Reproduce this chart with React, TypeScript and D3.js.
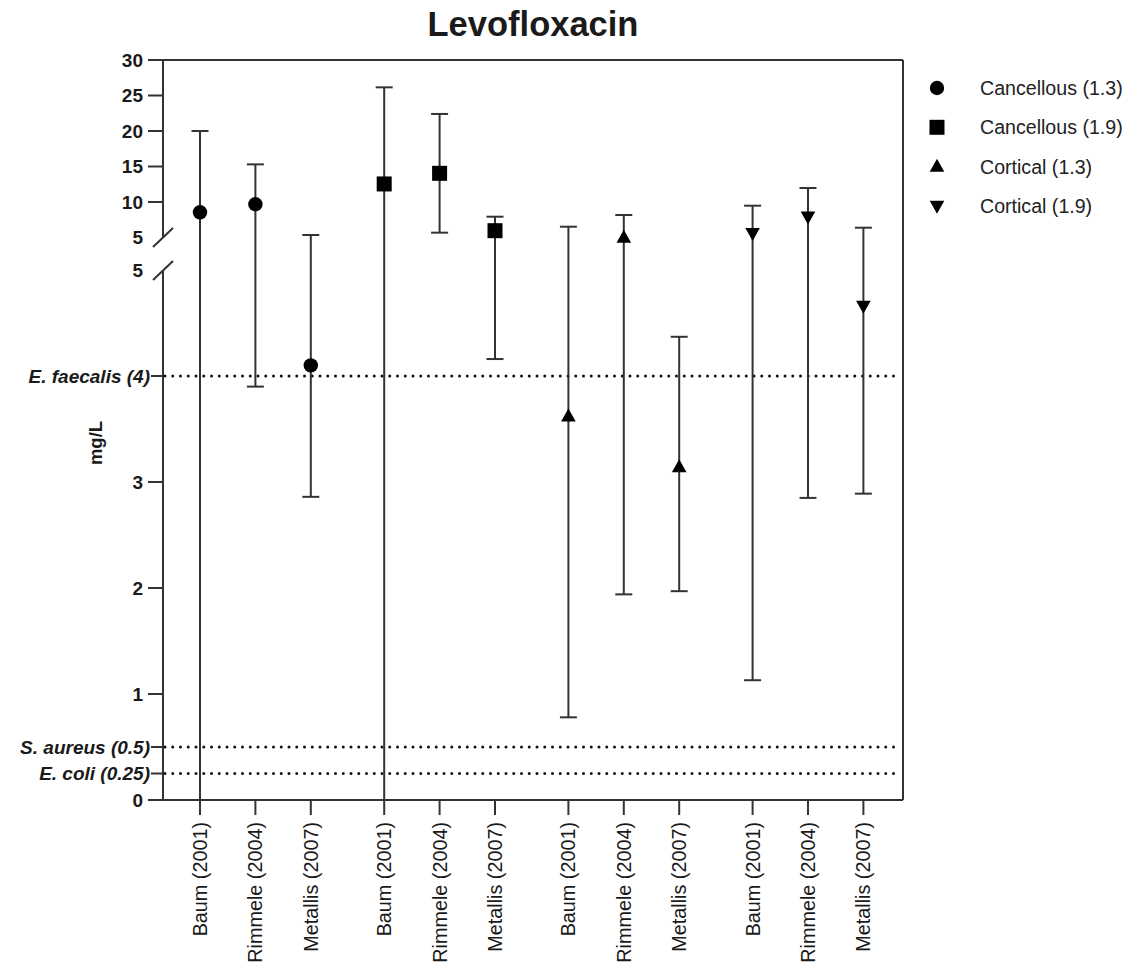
import React from "react";
import * as d3 from "d3";

// Studies plotted within each bone/dose group
const studies = ["Baum (2001)", "Rimmele (2004)", "Metallis (2007)"];
const groupNames = ["Cancellous (1.3)", "Cancellous (1.9)", "Cortical (1.3)", "Cortical (1.9)"];
const groupShapes = ["circle", "square", "triangleUp", "triangleDown"];

// Concentration (mg/L): point estimate with lower / upper error limits
const cancellous13Mean = [8.55, 9.68, 4.1];
const cancellous13Low = [0, 3.9, 2.86];
const cancellous13High = [20, 15.3, 5.35];

const cancellous19Mean = [12.54, 14.04, 5.96];
const cancellous19Low = [0, 5.68, 4.16];
const cancellous19High = [26.15, 22.4, 7.93];

const cortical13Mean = [3.62, 5.0, 3.14];
const cortical13Low = [0.78, 1.94, 1.97];
const cortical13High = [6.52, 8.17, 4.37];

const cortical19Mean = [5.59, 7.93, 4.66];
const cortical19Low = [1.13, 2.85, 2.89];
const cortical19High = [9.48, 11.97, 6.38];

// MIC breakpoints drawn as dotted reference lines
const micValues = [4, 0.5, 0.25];
const micLabels = ["E. faecalis (4)", "S. aureus (0.5)", "E. coli (0.25)"];

// Axis ticks for the two segments of the broken axis
const upperTicks = [10, 15, 20, 25, 30];
const lowerTicks = [0, 1, 2, 3];

const means = [cancellous13Mean, cancellous19Mean, cortical13Mean, cortical19Mean];
const lows = [cancellous13Low, cancellous19Low, cortical13Low, cortical19Low];
const highs = [cancellous13High, cancellous19High, cortical13High, cortical19High];

const FONT = "'Liberation Sans', Arial, Helvetica, sans-serif";
const INK = "#1a1a1a";
const LINE = "#333";

const left = 163;
const right = 903;
const top = 60;
const bottom = 800;
const groupGap = 0.325;

const x = d3.scaleLinear().domain([-0.668, 12.69]).range([left, right]);
const yUpper = d3.scaleLinear().domain([5, 30]).range([237.5, top]);
const yLower = d3.scaleLinear().domain([0, 5]).range([bottom, 270]);
const y = (v: number) => (v >= 5 ? yUpper(v) : yLower(v));

const posOf = (g: number, i: number) => g * (3 + groupGap) + i;

function marker(shape: string, cx: number, cy: number, key?: string) {
  if (shape === "circle") return <circle key={key} cx={cx} cy={cy} r={7.2} fill="#000" />;
  if (shape === "square")
    return <rect key={key} x={cx - 7.5} y={cy - 7.5} width={15} height={15} fill="#000" />;
  const w = 7.3;
  const h = 13;
  if (shape === "triangleUp") {
    const p = [
      [cx, cy - h * 0.6],
      [cx - w, cy + h * 0.4],
      [cx + w, cy + h * 0.4],
    ];
    return <path key={key} d={d3.line()(p as [number, number][]) + "Z"} fill="#000" />;
  }
  const p = [
    [cx, cy + h * 0.6],
    [cx - w, cy - h * 0.4],
    [cx + w, cy - h * 0.4],
  ];
  return <path key={key} d={d3.line()(p as [number, number][]) + "Z"} fill="#000" />;
}

export default function App() {
  const capHalf = 8.5;
  const marks: React.ReactNode[] = [];
  groupNames.forEach((_, g) => {
    studies.forEach((_, i) => {
      const cx = x(posOf(g, i));
      const yl = y(lows[g][i]);
      const yh = y(highs[g][i]);
      marks.push(
        <g key={`e${g}-${i}`} stroke={LINE} strokeWidth={2}>
          <line x1={cx} x2={cx} y1={yl} y2={yh} />
          <line x1={cx - capHalf} x2={cx + capHalf} y1={yh} y2={yh} />
          {lows[g][i] > 0 && <line x1={cx - capHalf} x2={cx + capHalf} y1={yl} y2={yl} />}
        </g>
      );
      marks.push(marker(groupShapes[g], cx, y(means[g][i]), `m${g}-${i}`));
    });
  });

  return (
    <svg
      width={1130}
      height={970}
      style={{ position: "absolute", left: 0, top: 0, background: "#fff" }}
      fontFamily={FONT}
    >
      <rect width={1130} height={970} fill="#fff" />
      {/* title */}
      <text x={533} y={36} textAnchor="middle" fontSize={34.5} fontWeight="bold" fill={INK}>
        Levofloxacin
      </text>

      {/* frame: top, right and bottom */}
      <g stroke={LINE} strokeWidth={2} fill="none">
        <line x1={left - 15} x2={right} y1={top} y2={top} />
        <line x1={right} x2={right} y1={top} y2={bottom} />
        <line x1={left - 15} x2={right} y1={bottom} y2={bottom} />
        <line x1={left} x2={left} y1={top} y2={237.5} />
        <line x1={left} x2={left} y1={270} y2={bottom} />
        {/* axis break marks */}
        <line x1={left - 10} x2={left + 10} y1={247} y2={228} />
        <line x1={left - 10} x2={left + 10} y1={280} y2={261} />
      </g>

      {/* y ticks: upper segment */}
      {upperTicks.map((t) => (
        <g key={`u${t}`}>
          <line x1={left - 15} x2={left} y1={yUpper(t)} y2={yUpper(t)} stroke={LINE} strokeWidth={2} />
          <text x={143} y={yUpper(t)} dy="0.36em" textAnchor="end" fontSize={19} fontWeight="bold" fill={INK}>
            {t}
          </text>
        </g>
      ))}
      <text x={143} y={237.5} dy="0.36em" textAnchor="end" fontSize={19} fontWeight="bold" fill={INK}>
        5
      </text>
      <text x={143} y={270} dy="0.36em" textAnchor="end" fontSize={19} fontWeight="bold" fill={INK}>
        5
      </text>
      {/* y ticks: lower segment */}
      {lowerTicks.map((t) => (
        <g key={`l${t}`}>
          <line x1={left - 15} x2={left} y1={yLower(t)} y2={yLower(t)} stroke={LINE} strokeWidth={2} />
          <text x={143} y={yLower(t)} dy="0.36em" textAnchor="end" fontSize={19} fontWeight="bold" fill={INK}>
            {t}
          </text>
        </g>
      ))}

      {/* MIC reference lines */}
      {micValues.map((m, k) => (
        <g key={`mic${k}`}>
          <line x1={left - 12} x2={left} y1={yLower(m)} y2={yLower(m)} stroke={LINE} strokeWidth={2} />
          <line
            x1={left + 2}
            x2={right - 2}
            y1={yLower(m)}
            y2={yLower(m)}
            stroke="#111"
            strokeWidth={3}
            strokeDasharray="0 7.75"
            strokeLinecap="round"
          />
          <text
            x={150}
            y={yLower(m)}
            dy="0.36em"
            textAnchor="end"
            fontSize={19}
            fontWeight="bold"
            fontStyle="italic"
            fill={INK}
          >
            {micLabels[k]}
          </text>
        </g>
      ))}

      {/* y axis title */}
      <text
        transform="translate(95,443) rotate(-90)"
        dy="0.36em"
        textAnchor="middle"
        fontSize={18.5}
        fontWeight="bold"
        fill={INK}
      >
        mg/L
      </text>

      {/* x ticks and rotated study labels */}
      {groupNames.map((_, g) =>
        studies.map((s, i) => {
          const cx = x(posOf(g, i));
          return (
            <g key={`x${g}-${i}`}>
              <line x1={cx} x2={cx} y1={bottom} y2={bottom + 15} stroke={LINE} strokeWidth={2} />
              <text
                transform={`translate(${cx},${bottom + 22}) rotate(-90)`}
                dy="0.35em"
                textAnchor="end"
                fontSize={19.8}
                fill={INK}
              >
                {s}
              </text>
            </g>
          );
        })
      )}

      {/* error bars and points */}
      {marks}

      {/* legend */}
      {groupNames.map((name, g) => {
        const ly = 88 + g * 39.3;
        return (
          <g key={`lg${g}`}>
            {marker(groupShapes[g], 937, ly)}
            <text x={980} y={ly} dy="0.36em" fontSize={19.6} fill="#222">
              {name}
            </text>
          </g>
        );
      })}
    </svg>
  );
}
